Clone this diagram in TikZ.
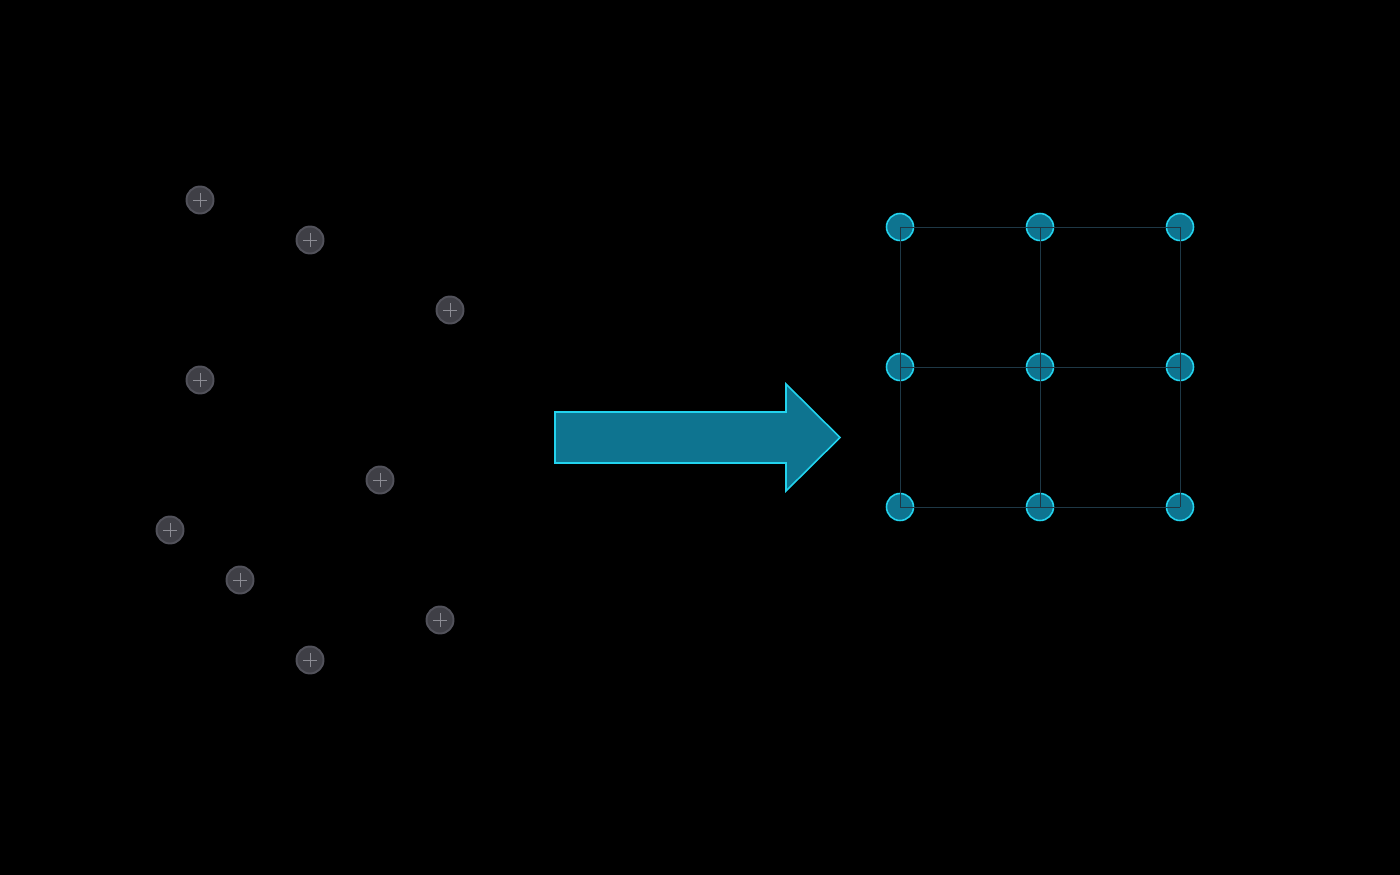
\documentclass[tikz,border=0pt]{standalone}
\usetikzlibrary{positioning}
\definecolor{fundo}{RGB}{0, 0, 0}
\definecolor{pontoCinza}{RGB}{63, 63, 70}
\definecolor{bordaCinza}{RGB}{82, 82, 91}
\definecolor{cruz}{RGB}{140, 140, 148}
\definecolor{azul}{RGB}{14, 116, 144}
\definecolor{ciano}{RGB}{34, 211, 238}
\definecolor{linhaGrade}{RGB}{30, 56, 70}

\begin{document}
\begin{tikzpicture}[
    x=0.02cm,
    y=-0.02cm,
    ponto/.style={
        circle,
        fill=pontoCinza,
        draw=bordaCinza,
        line width=1.1pt,
        minimum size=0.54cm,
        inner sep=0pt
    },
    cruzinha/.style={
        draw=cruz,
        line width=0.55pt
    },
    noGrade/.style={
        circle,
        fill=azul,
        draw=ciano,
        line width=0.9pt,
        minimum size=0.54cm,
        inner sep=0pt
    },
    aresta/.style={
        draw=linhaGrade,
        line width=0.55pt
    },
    seta/.style={
        fill=azul,
        draw=ciano,
        line width=0.9pt
    }
]

% fundo
\fill[fundo] (0,0) rectangle (1400,875);
\useasboundingbox (0,0) rectangle (1400,875);

% =================================================
% BLOCO 1 - PONTOS SOLTOS
% =================================================

\foreach \nome/\px/\py in {
    p1/200/200, p2/310/240, p3/450/310,
    p4/200/380, p5/380/480, p6/170/530,
    p7/240/580, p8/440/620, p9/310/660}
{
    \node[ponto] (\nome) at (\px,\py) {};
    \draw[cruzinha] ([xshift=-0.14cm]\nome.center) -- ([xshift=0.14cm]\nome.center);
    \draw[cruzinha] ([yshift=-0.14cm]\nome.center) -- ([yshift=0.14cm]\nome.center);
}


% =================================================
% BLOCO 2 - SETA
% =================================================

\coordinate (s1) at (555,412);
\coordinate (s2) at (786,412);
\coordinate (s3) at (786,384);
\coordinate (ponta) at (840,437.5);
\coordinate (s5) at (786,491);
\coordinate (s6) at (786,463);
\coordinate (s7) at (555,463);

\draw[seta] (s1) -- (s2) -- (s3) -- (ponta) -- (s5) -- (s6) -- (s7) -- cycle;


% =================================================
% BLOCO 3 - GRADE
% =================================================

\foreach \i/\gx in {1/900, 2/1040, 3/1180}
{
    \foreach \j/\gy in {1/227, 2/367, 3/507}
    {
        \node[noGrade] (g\i\j) at (\gx,\gy) {};
    }
}

% Arestas da grade
\foreach \i in {1,2,3}
{
    \draw[aresta] (g\i1.center) -- (g\i2.center);
    \draw[aresta] (g\i2.center) -- (g\i3.center);
    \draw[aresta] (g1\i.center) -- (g2\i.center);
    \draw[aresta] (g2\i.center) -- (g3\i.center);
}

\end{tikzpicture}
\end{document}
